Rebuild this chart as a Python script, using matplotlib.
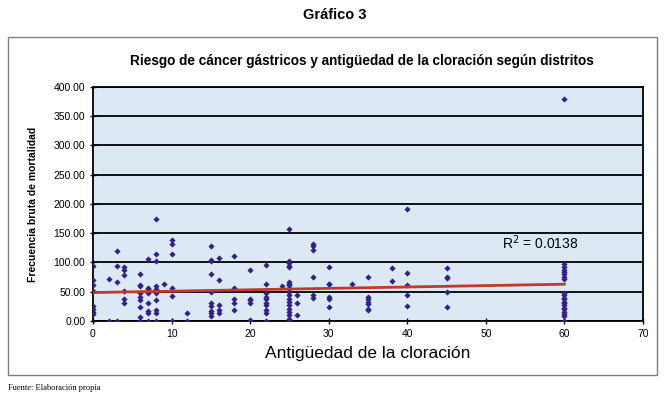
import numpy as np
import matplotlib
matplotlib.use("Agg")
import matplotlib.pyplot as plt
from matplotlib.patches import Rectangle

plt.rcParams['font.family'] = ['Liberation Sans', 'DejaVu Sans']

# antigüedad de la cloración (años) -> frecuencias observadas en cada distrito
years = [0, 2, 3, 4, 6, 7, 8, 9, 10, 12, 15, 16, 18, 20, 22,
         24, 25, 26, 28, 30, 33, 35, 38, 40, 45, 60]
freq_by_year = [
    [94, 70, 62, 52, 25, 20, 15, 12],
    [72, 0],
    [119, 94, 66, 0],
    [93, 87, 78, 52, 38, 30],
    [80, 61, 60, 47, 41, 36, 24, 7, 0],
    [106, 56, 54, 47, 31, 17, 14, 0],
    [175, 115, 102, 59, 54, 47, 36, 18, 14, 0],
    [64],
    [138, 132, 115, 57, 43, 0],
    [14, 0],
    [128, 105, 103, 80, 49, 30, 26, 17, 13, 8],
    [107, 70, 27, 18, 13],
    [111, 56, 37, 31, 18],
    [87, 38, 36, 31, 2, 0],
    [96, 64, 47, 41, 37, 31, 27, 18, 13, 0],
    [59],
    [157, 102, 99, 94, 92, 67, 64, 61, 57, 54, 50, 44, 38, 33, 27, 21, 16, 10, 4, 0],
    [44, 30, 10],
    [132, 128, 122, 75, 44, 40],
    [92, 64, 63, 41, 38, 24],
    [64],
    [76, 41, 37, 33, 29, 21, 18],
    [90, 69],
    [192, 82, 62, 45, 26],
    [91, 76, 74, 49, 24],
    [380, 98, 93, 88, 84, 80, 76, 72, 47, 44, 40, 37, 33, 30, 27, 23, 20, 16, 12, 8, 0],
]
r2_label = "R$^2$ = 0.0138"

x = np.concatenate([[yr] * len(v) for yr, v in zip(years, freq_by_year)])
y = np.concatenate(freq_by_year).astype(float)

fig = plt.figure(figsize=(6.7, 3.99), dpi=100)

# outer chart frame
fig.patches.append(Rectangle((0.012, 0.060), 0.969, 0.847, transform=fig.transFigure,
                             fill=False, edgecolor='#7f7f7f', linewidth=1.0))

ax = fig.add_axes([0.1388, 0.1955, 0.8209, 0.5865])
ax.set_facecolor('#dce9f5')

ax.scatter(x, y, marker='D', s=10, color='#33208c', zorder=3, linewidths=0)

# linear trend line
slope, intercept = np.polyfit(x, y, 1)
xs = np.array([0, 60])
ax.plot(xs, intercept + slope * xs, color='#c0392b', linewidth=2, zorder=4)

ax.set_xlim(0, 70)
ax.set_ylim(0, 400)
ax.set_xticks(range(0, 71, 10))
ax.set_yticks(range(0, 401, 50))
ax.set_yticklabels([f"{v:.2f}" for v in range(0, 401, 50)])
ax.tick_params(labelsize=7.5, direction='inout', length=5, width=1, pad=3)
ax.yaxis.grid(True, color='black', linewidth=1.3)
ax.set_axisbelow(True)
for sp in ax.spines.values():
    sp.set_linewidth(1.3)

ax.text(52, 133, r2_label, fontsize=10, va='center', ha='left')

ax.set_ylabel('Frecuencia bruta de mortalidad', fontsize=7.5, fontweight='bold', labelpad=11)
ax.set_xlabel('Antigüedad de la cloración', fontsize=12.5, labelpad=5)

fig.text(0.5, 0.962, 'Gráfico 3', ha='center', va='center', fontsize=10.5, fontweight='bold')
fig.text(0.54, 0.847, 'Riesgo de cáncer gástricos y antigüedad de la cloración según distritos',
         ha='center', va='center', fontsize=9.8, fontweight='bold')
fig.text(0.012, 0.028, 'Fuente: Elaboración propia', ha='left', va='center', fontsize=6,
         family=['Liberation Serif', 'DejaVu Serif'])

fig.savefig('out.png', dpi=100)
